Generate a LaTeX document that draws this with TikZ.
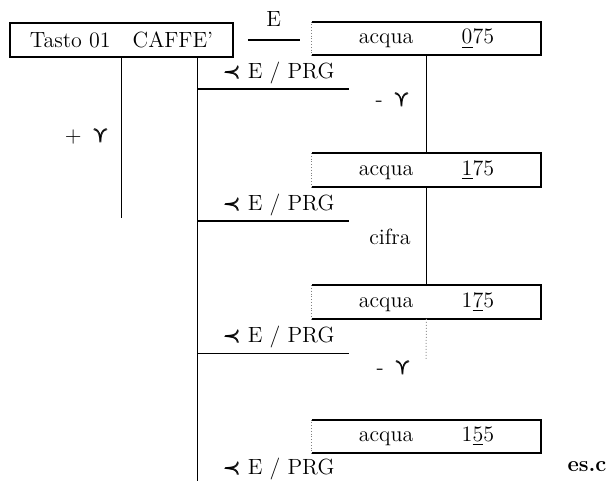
\documentclass[tikz,border=0pt]{standalone}
\usepackage{amsmath, amssymb}
\usepackage{tikz}
\usetikzlibrary{positioning, calc}

\begin{document}
\begin{tikzpicture}[x=0.5pt, y=-0.5pt, font=\fontsize{11}{13}\selectfont,
  tasto/.style={draw, line width=0.9pt, minimum width=111.5pt, minimum height=17pt, inner sep=0pt},
  riquadro/.style={minimum width=114.5pt, minimum height=16.5pt, inner sep=0pt},
  bordo/.style={line width=1pt},
  lato/.style={line width=0.4pt, densely dotted, gray},
  menu/.style={minimum height=16pt, inner sep=0pt},
  filo/.style={line width=0.5pt}]
% --- SCHEMA TASTO 01: PROGRAMMAZIONE ACQUA ---
\definecolor{tenue}{HTML}{9A9A9A}
\useasboundingbox (0,0) rectangle (611,481);

% LAYER 1: Tasto e riquadri acqua
\node[tasto] (tasto) at (121.5,40) {Tasto 01\quad CAFFE'};
\node[riquadro] (a1) at (426.5,38.5) {acqua\hspace{2.2em}\underline{0}75};
\node[riquadro] (a2) at (426.5,170) {acqua\hspace{2.2em}\underline{1}75};
\node[riquadro] (a3) at (426.5,302) {acqua\hspace{2.2em}1\underline{7}5};
\node[riquadro] (a4) at (426.5,436.5) {acqua\hspace{2.2em}1\underline{5}5};
\foreach \r in {a1,a2,a3,a4} {
  \draw[bordo] (\r.south west) -- (\r.south east) -- (\r.north east) -- (\r.north west);
  \draw[lato] (\r.north west) -- (\r.south west);
}

% LAYER 2: Voci di menu
\coordinate (fine2) at (197,481);
\node[menu] (p1) at (279,73) {$\pmb{\prec}$ E / PRG};
\node[menu] (p2) at (279,205) {$\pmb{\prec}$ E / PRG};
\node[menu] (p3) at (279,337) {$\pmb{\prec}$ E / PRG};
\node[menu] (p4) at (279,469) {$\pmb{\prec}$ E / PRG};
\foreach \p in {p1,p2,p3} {
  \draw[line width=0.9pt] (\p.south -| fine2) -- ++(152,0);
}

% LAYER 3: Collegamenti
\coordinate (fine1) at (121,218);
\coordinate (fine3) at (426,360);
\draw[filo] (tasto.south -| fine1) -- (fine1);
\draw[filo] (tasto.south -| fine2) -- (fine2);
\draw[line width=0.8pt] ([xshift=7pt]tasto.east) -- ([xshift=-6pt]a1.west |- tasto.east) node[midway, above=3pt] (e) {E};
\draw[filo] (a1.south) -- (a2.north);
\draw[filo] (a2.south) -- (a3.north);
\draw[filo, densely dotted, color=tenue] (a3.south) -- (fine3);

% LAYER 4: Tasti e note
\node (piu) at (87,137) {+\enspace$\pmb{\curlyvee}$};
\node (m1) at (393,100) {-\enspace$\pmb{\curlyvee}$};
\node (m2) at (394,368) {-\enspace$\pmb{\curlyvee}$};
\node (cifra) at (390,237) {cifra};
\node (esc) at (587,467) {\textbf{es.c}};
\end{tikzpicture}
\end{document}
